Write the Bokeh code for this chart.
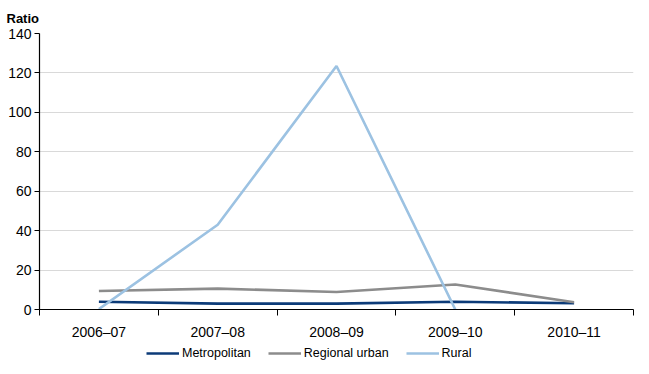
from bokeh.plotting import figure
from bokeh.layouts import column
from bokeh.models import FixedTicker, Legend, LegendItem
from bokeh.embed import file_html
from bokeh.resources import INLINE

years = ["2006\u201307", "2007\u201308", "2008\u201309", "2009\u201310", "2010\u201311"]
metropolitan = [3.9, 3.0, 3.0, 3.9, 3.2]
regional_urban = [9.4, 10.6, 8.9, 12.7, 3.7]
rural = [0.2, 43.0, 123.5, 0.0, None]
y_ticks = [0, 20, 40, 60, 80, 100, 120, 140]
series_names = ["Metropolitan", "Regional urban", "Rural"]
colors = ["#0c3b78", "#8c8c8c", "#9cc2e2"]

xs = [i + 0.5 for i in range(len(years))]
FONT = "Liberation Sans"
LW = 2.6

p = figure(width=641, height=342, output_backend="svg", toolbar_location=None,
           x_range=(0, len(years)), y_range=(0, 140),
           min_border_left=39, min_border_right=8, min_border_bottom=32, min_border_top=0)
p.outline_line_color = None

p.title.text = "Ratio"
p.title.text_font = FONT
p.title.text_font_size = "13px"
p.title.text_font_style = "bold"
p.title.offset = -33
p.title.standoff = 16
p.title.text_color = "black"

# x axis
p.xaxis.ticker = FixedTicker(ticks=xs, minor_ticks=list(range(len(years) + 1)))
p.xaxis.major_label_overrides = {x: y for x, y in zip(xs, years)}
p.xaxis.major_tick_out = 0
p.xaxis.major_tick_in = 0
p.xaxis.minor_tick_out = 6
p.xaxis.minor_tick_in = 0
p.xaxis.minor_tick_line_color = "black"
p.xaxis.axis_line_color = "black"
p.xaxis.axis_line_width = 1.2
p.xaxis.major_label_text_font = FONT
p.xaxis.major_label_text_font_size = "14px"
p.xaxis.major_label_text_color = "black"
p.xaxis.major_label_standoff = 8
p.xgrid.grid_line_color = None

# y axis
p.yaxis.ticker = FixedTicker(ticks=y_ticks)
p.yaxis.major_tick_out = 5
p.yaxis.major_tick_in = 0
p.yaxis.minor_tick_line_color = None
p.yaxis.axis_line_color = "black"
p.yaxis.axis_line_width = 1.2
p.yaxis.major_label_text_font = FONT
p.yaxis.major_label_text_font_size = "14px"
p.yaxis.major_label_text_color = "black"
p.yaxis.major_label_standoff = 3
p.ygrid.grid_line_color = "#d9d9d9"
p.ygrid.grid_line_width = 1

p.line(xs, metropolitan, line_color=colors[0], line_width=LW)
p.line(xs, regional_urban, line_color=colors[1], line_width=LW)
rx = [x for x, v in zip(xs, rural) if v is not None]
ry = [v for v in rural if v is not None]
p.line(rx, ry, line_color=colors[2], line_width=LW)

# legend strip below the chart (proxy renderers, single point => nothing drawn)
q = figure(width=641, height=24, output_backend="svg", toolbar_location=None,
           x_range=(0, 1), y_range=(0, 1),
           min_border_left=0, min_border_right=0, min_border_bottom=0, min_border_top=0)
q.axis.visible = False
q.grid.visible = False
q.outline_line_color = None
items = []
for name, c in zip(series_names, colors):
    r = q.line([5], [5], line_color=c, line_width=LW)
    items.append(LegendItem(label=name, renderers=[r]))
legend = Legend(items=items, orientation="horizontal", location=(107, 6),
                label_text_font=FONT, label_text_font_size="12.5px",
                label_text_color="black",
                glyph_width=33, glyph_height=14, label_standoff=3, spacing=17,
                label_height=14,
                border_line_color=None, background_fill_alpha=0, padding=0, margin=0)
q.add_layout(legend, "center")

layout = column(p, q, spacing=0)
open("out.html", "w").write(file_html(layout, INLINE))
